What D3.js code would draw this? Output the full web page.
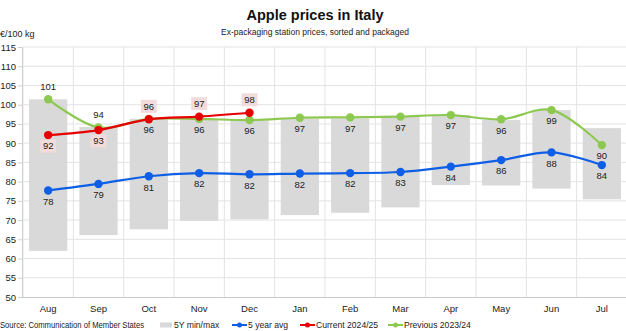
<!DOCTYPE html>
<html>
<head>
<meta charset="utf-8">
<script src="https://cdn.jsdelivr.net/npm/d3@7"></script>
<style>
  body { margin: 0; background: #fff; }
  svg { display: block; font-family: "Liberation Sans", Arial, sans-serif; }
</style>
</head>
<body>
<svg id="chart" width="626" height="331"></svg>
<script>
// ---------------------- DATA ----------------------
const months = ["Aug", "Sep", "Oct", "Nov", "Dec", "Jan", "Feb", "Mar", "Apr", "May", "Jun", "Jul"];
const rangeMin = [62, 66.1, 67.6, 69.8, 70.2, 71.3, 71.9, 73.3, 79.1, 79, 78.2, 75.4];
const rangeMax = [101.4, 94.2, 96.3, 96.2, 95.9, 96.3, 96.4, 96.9, 97.3, 96, 98.6, 93.9];
const avg5y = [77.7, 79.4, 81.4, 82.2, 81.9, 82.1, 82.2, 82.5, 83.9, 85.6, 87.6, 84.3];
const current = [92.1, 93.4, 96.2, 96.9, 97.9];
const previous = [101.4, 94.1, 96.3, 96.3, 96.0, 96.6, 96.7, 96.9, 97.3, 96.2, 98.6, 89.5];
// label placement: 1 = above, -1 = below
const prevLabelPos = [1, 1, -1, -1, -1, -1, -1, -1, -1, -1, -1, -1];
const curLabelPos = [-1, -1, 1, 1, 1];
const yTicks = d3.range(50, 116, 5);

const colors = {bar: "#d9d9d9", avg: "#0f5fe6", cur: "#e60000", prev: "#8dc850", grid: "#e3e3e3", box: "#f2dcdb"};

// ---------------------- SCALES ----------------------
const svg = d3.select("#chart");
const x = d3.scaleBand().domain(months).range([23, 627]).paddingInner(0.24).paddingOuter(0.12);
const xc = m => x(m) + x.bandwidth() / 2;
const y = d3.scaleLinear().domain([50, 115]).range([297, 47]);

// ---------------------- GRID ----------------------
const grid = svg.append("g");
grid.selectAll(".hg").data(yTicks.filter(d => d > 50)).join("line")
    .attr("x1", 22).attr("x2", 626)
    .attr("y1", d => y(d)).attr("y2", d => y(d))
    .attr("stroke", colors.grid).attr("stroke-width", 1);

grid.selectAll(".vg").data(d3.range(0, months.length + 1)).join("line")
    .attr("x1", i => 23 + i * (604 / 12)).attr("x2", i => 23 + i * (604 / 12))
    .attr("y1", 47).attr("y2", 297)
    .attr("stroke", colors.grid).attr("stroke-width", 1);

// y axis
const yAxis = svg.append("g").attr("transform", "translate(22,0)")
    .call(d3.axisLeft(y).tickValues(yTicks).tickSize(4).tickPadding(2));
yAxis.select(".domain").attr("stroke", "#d0d0d0");
yAxis.selectAll(".tick line").attr("stroke", "#d0d0d0");
yAxis.selectAll("text").attr("font-size", 9.5).attr("fill", "#222");

// x axis
const xAxis = svg.append("g").attr("transform", "translate(0,297)")
    .call(d3.axisBottom(x).tickSize(0).tickPadding(8));
xAxis.select(".domain").attr("stroke", "#c8c8c8").attr("d", "M22,0.5H626");
xAxis.selectAll("text").attr("font-size", 9.5).attr("fill", "#222");

// ---------------------- BARS ----------------------
svg.append("g").selectAll("rect").data(months).join("rect")
    .attr("x", m => x(m))
    .attr("width", x.bandwidth())
    .attr("y", (m, i) => y(rangeMax[i]))
    .attr("height", (m, i) => y(rangeMin[i]) - y(rangeMax[i]))
    .attr("fill", colors.bar);

// ---------------------- LINES ----------------------
const line = d3.line().x((d, i) => xc(months[i])).y(d => y(d)).curve(d3.curveCatmullRom.alpha(0.5));

function drawSeries(values, color) {
    const g = svg.append("g");
    g.append("path").datum(values).attr("d", line)
        .attr("fill", "none").attr("stroke", color).attr("stroke-width", 2.2);
    g.selectAll("circle").data(values).join("circle")
        .attr("cx", (d, i) => xc(months[i])).attr("cy", d => y(d))
        .attr("r", 4.2).attr("fill", color);
}

drawSeries(avg5y, colors.avg);
drawSeries(previous, colors.prev);
drawSeries(current, colors.cur);

// ---------------------- LABELS ----------------------
const labels = svg.append("g").attr("font-size", 9.5).attr("fill", "#222").attr("text-anchor", "middle");

function addLabels(values, pos, boxed) {
    values.forEach((v, i) => {
        const cx = xc(months[i]);
        const cy = y(v) + (pos[i] > 0 ? -13 : 11);
        if (boxed) {
            labels.append("rect")
                .attr("x", cx - 8).attr("y", cy - 6.5)
                .attr("width", 16).attr("height", 13)
                .attr("fill", colors.box);
        }
        labels.append("text")
            .attr("x", cx).attr("y", cy).attr("dy", "0.35em")
            .attr("fill", "#222")
            .text(Math.round(v));
    });
}

addLabels(avg5y, avg5y.map(() => -1), false);
addLabels(previous, prevLabelPos, false);
addLabels(current, curLabelPos, true);

// ---------------------- TITLES ----------------------
svg.append("text").attr("x", 315).attr("y", 20).attr("text-anchor", "middle")
    .attr("font-size", 14.5).attr("font-weight", "bold").attr("fill", "#111")
    .text("Apple prices in Italy");
svg.append("text").attr("x", 315).attr("y", 35).attr("text-anchor", "middle")
    .attr("font-size", 8.5).attr("fill", "#222")
    .text("Ex-packaging station prices, sorted and packaged");
svg.append("text").attr("x", 0).attr("y", 37)
    .attr("font-size", 9).attr("fill", "#222")
    .text("€/100 kg");

// ---------------------- LEGEND ----------------------
const ly = 325;
const legend = svg.append("g").attr("font-size", 8.6).attr("fill", "#222");
legend.append("text").attr("x", 0).attr("y", ly).attr("dy", "0.35em")
    .attr("textLength", 144).attr("lengthAdjust", "spacingAndGlyphs")
    .text("Source: Communication of Member States");

legend.append("rect").attr("x", 160).attr("y", ly - 2.5).attr("width", 12).attr("height", 5).attr("fill", colors.bar);
legend.append("text").attr("x", 174).attr("y", ly).attr("dy", "0.35em").text("5Y min/max");

const legendLines = [
    {x: 232, label: "5 year avg", color: colors.avg},
    {x: 300, label: "Current 2024/25", color: colors.cur},
    {x: 388, label: "Previous 2023/24", color: colors.prev}
];
legendLines.forEach(d => {
    legend.append("line").attr("x1", d.x).attr("x2", d.x + 15).attr("y1", ly).attr("y2", ly)
        .attr("stroke", d.color).attr("stroke-width", 2);
    legend.append("circle").attr("cx", d.x + 7.5).attr("cy", ly).attr("r", 2.5).attr("fill", d.color);
    legend.append("text").attr("x", d.x + 16).attr("y", ly).attr("dy", "0.35em").text(d.label);
});
</script>
</body>
</html>
